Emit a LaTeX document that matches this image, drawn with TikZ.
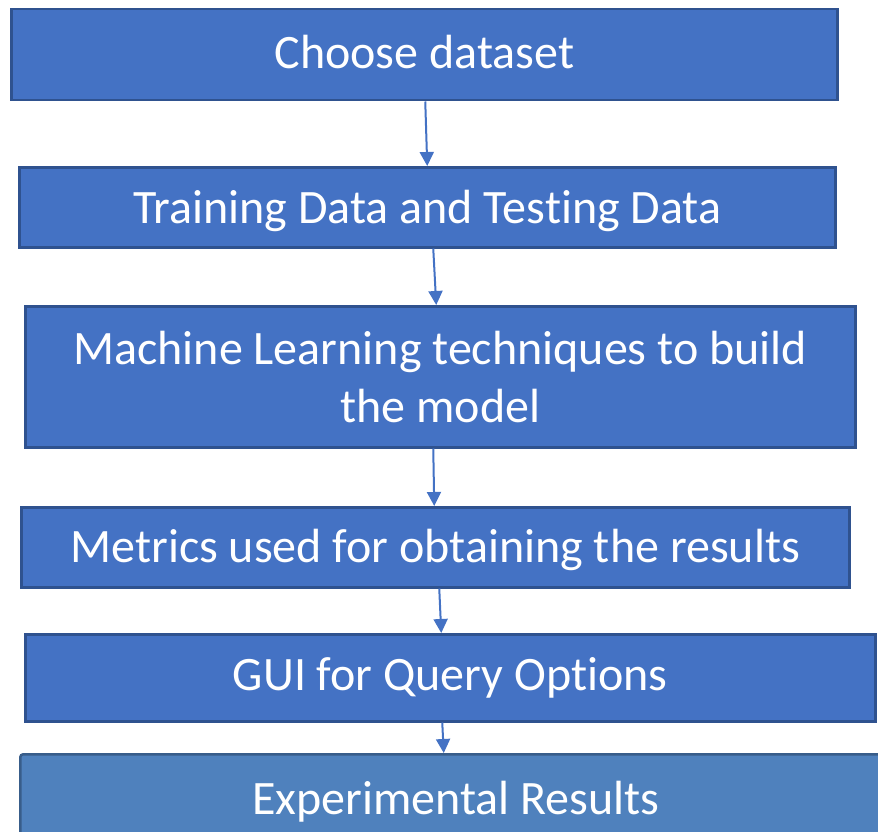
\documentclass[tikz,border=0pt]{standalone}
\usepackage{fontspec}
\setmainfont[Ligatures={NoCommon}]{Carlito}
\usetikzlibrary{arrows.meta}
\definecolor{boxfill}{HTML}{4472C4}
\definecolor{boxline}{HTML}{2F528F}
\definecolor{lastfill}{HTML}{4F81BD}
\definecolor{lastline}{HTML}{385D8A}
\newcommand{\shifttxt}[2]{\raisebox{#1}[\height][\depth]{#2}}
\begin{document}
\begin{tikzpicture}[x=1pt,y=-1pt,
  box/.style={draw=boxline, fill=boxfill, line width=2.5pt, anchor=north west,
    inner sep=0pt, text=white, align=center,
    font=\fontsize{48}{58}\selectfont},
  lastbox/.style={box, draw=lastline, fill=lastfill, rounded corners=3pt},
  arr/.style={draw=boxfill, line width=2pt, -{Triangle[width=14pt,length=14pt]}}]
\useasboundingbox (0,0) rectangle (878,832);
\node[box, minimum width=826pt, minimum height=91pt] (b1) at (10,8) {\shifttxt{3pt}{Choose dataset}};
\node[box, minimum width=816pt, minimum height=80pt] (b2) at (18,166) {\shifttxt{-4pt}{Training Data and Testing Data}};
\node[box, minimum width=830pt, minimum height=141pt] (b3) at (24,305) {Machine Learning techniques to build\\the model};
\node[box, minimum width=828pt, minimum height=80pt] (b4) at (20,506) {\shifttxt{-3pt}{Metrics used for obtaining the results}};
\node[box, minimum width=850pt, minimum height=87pt] (b5) at (24,633) {GUI for Query Options};
\node[lastbox, minimum width=871pt, minimum height=95pt] (b6) at (19,753) {Experimental Results};
\draw[arr] ([xshift=1pt]b1.south) -- ([xshift=0pt]b2.north);
\draw[arr] ([xshift=6pt]b2.south) -- ([xshift=-4pt]b3.north);
\draw[arr] ([xshift=-7pt]b3.south) -- ([xshift=-1pt]b4.north);
\draw[arr] ([xshift=4pt]b4.south) -- ([xshift=-9pt]b5.north);
\draw[arr] ([xshift=-8pt]b5.south) -- ([xshift=-12pt]b6.north);
\end{tikzpicture}
\end{document}
